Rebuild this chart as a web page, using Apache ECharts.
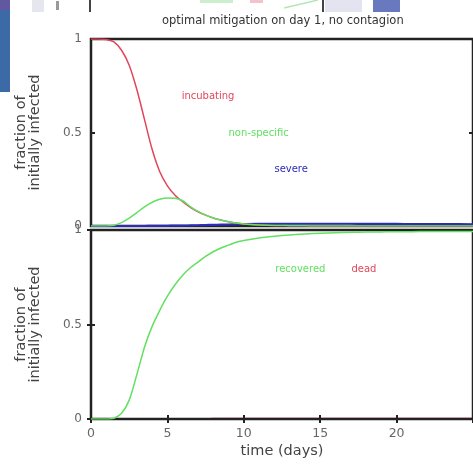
<!DOCTYPE html>
<html>
<head>
<meta charset="utf-8">
<script src="https://cdn.jsdelivr.net/npm/echarts@6/dist/echarts.min.js"></script>
<style>
  html, body { margin: 0; padding: 0; background: #fff; }
  #chart { width: 473px; height: 464px; }
</style>
</head>
<body>
<div id="chart"></div>
<script>
// time axis (days)
var days = [0, 0.5, 1, 1.5, 2, 2.5, 3, 3.5, 4, 4.5, 5, 5.5, 6, 6.5, 7, 7.5, 8, 8.5, 9, 9.5, 10,
            11, 12, 13, 14, 15, 16, 17, 18, 19, 20, 21, 22, 23, 24, 25];

// upper panel
var incubating  = [1, 1, 0.997, 0.985, 0.94, 0.86, 0.73, 0.57, 0.41, 0.29, 0.215, 0.165, 0.13, 0.1, 0.076, 0.058, 0.043, 0.032, 0.023, 0.016, 0.011,
                   0.006, 0.003, 0.002, 0.001, 0, 0, 0, 0, 0, 0, 0, 0, 0, 0, 0];
var nonSpecific = [0, 0, 0, 0.004, 0.018, 0.042, 0.072, 0.102, 0.127, 0.143, 0.15, 0.148, 0.135, 0.104, 0.078, 0.058, 0.043, 0.032, 0.023, 0.016, 0.011,
                   0.006, 0.003, 0.002, 0.001, 0, 0, 0, 0, 0, 0, 0, 0, 0, 0, 0];
var severe      = [0, 0, 0, 0, 0, 0, 0, 0, 0.001, 0.001, 0.001, 0.002, 0.002, 0.003, 0.004, 0.005, 0.006, 0.007, 0.008, 0.009, 0.01,
                   0.011, 0.011, 0.012, 0.012, 0.012, 0.012, 0.012, 0.011, 0.011, 0.011, 0.01, 0.01, 0.01, 0.01, 0.009];

// lower panel
var recovered = [0, 0, 0, 0.004, 0.03, 0.1, 0.235, 0.38, 0.49, 0.575, 0.65, 0.71, 0.76, 0.8, 0.83, 0.86, 0.885, 0.905, 0.92, 0.935, 0.945,
                 0.958, 0.967, 0.974, 0.979, 0.983, 0.986, 0.988, 0.989, 0.99, 0.991, 0.991, 0.992, 0.992, 0.992, 0.992];
var dead      = [0, 0, 0, 0, 0, 0, 0, 0, 0, 0, 0.001, 0.001, 0.001, 0.001, 0.001, 0.001, 0.002, 0.002, 0.002, 0.002, 0.002,
                 0.002, 0.002, 0.003, 0.003, 0.003, 0.003, 0.003, 0.003, 0.003, 0.003, 0.003, 0.003, 0.003, 0.003, 0.003];

var xTicks = [0, 5, 10, 15, 20];
var yTicks = [0, 0.5, 1];

// in-plot curve labels: [day, value]
var labelIncubating  = [7.66, 0.695];
var labelNonSpecific = [10.97, 0.497];
var labelSevere      = [13.1, 0.30];
var labelRecovered   = [13.7, 0.794];
var labelDead        = [17.86, 0.794];

var RED = "#e2465a", GREEN = "#62e062", BLUE = "#2c2cb8";
var FONT = "'DejaVu Sans', sans-serif";

function pairs(ys) {
  return days.map(function (d, i) { return [d, ys[i]]; });
}

function tag(pos, text, color) {
  return {
    symbol: "circle",
    symbolSize: 1,
    itemStyle: { color: "rgba(0,0,0,0)" },
    silent: true,
    label: { show: true, position: "inside", formatter: "{b}", color: color, fontSize: 10, fontFamily: FONT },
    data: [{ name: text, coord: pos }]
  };
}

function line(name, ys, color, idx, width, mark) {
  var s = {
    name: name,
    type: "line",
    xAxisIndex: idx,
    yAxisIndex: idx * 2,
    data: pairs(ys),
    smooth: 0.3,
    showSymbol: false,
    lineStyle: { color: color, width: width },
    itemStyle: { color: color }
  };
  if (mark) s.markPoint = mark;
  return s;
}

var tickStyle = { show: true, inside: true, length: 4, lineStyle: { color: "#222", width: 2 } };

function yAx(grid, pos, labels) {
  return {
    gridIndex: grid,
    position: pos,
    type: "value",
    min: 0, max: 1, interval: 0.5,
    splitLine: { show: false },
    axisLine: { show: false },
    axisTick: tickStyle,
    axisLabel: {
      show: labels, margin: 9, color: "#666", fontSize: 12, fontFamily: FONT,
      formatter: function (v) { return yTicks.indexOf(v) >= 0 ? String(v) : ""; }
    },
    name: labels ? "fraction of\ninitially infected" : "",
    nameLocation: "middle",
    nameGap: 49,
    nameTextStyle: { color: "#444", fontSize: 14.5, lineHeight: 14, fontFamily: FONT }
  };
}

var deadLine = line("dead", dead, RED, 1, 1.5, tag(labelDead, "dead", RED));
deadLine.z = -1; // sits under the frame, as in the original

var chart = echarts.init(document.getElementById("chart"));
chart.setOption({
  animation: false,
  title: {
    text: "optimal mitigation on day 1, no contagion",
    left: 157, top: 10,
    textStyle: { color: "#333", fontSize: 11.5, fontWeight: "normal", fontFamily: FONT }
  },
  grid: [
    { left: 91, right: -3, top: 39, height: 187, show: true, borderColor: "#222", borderWidth: 2.5 },
    { left: 91, right: -3, top: 230, height: 189, show: true, borderColor: "#222", borderWidth: 2.5 }
  ],
  xAxis: [
    {
      gridIndex: 0, type: "value", min: 0, max: 25, interval: 5,
      axisLine: { show: false }, axisTick: { show: false }, axisLabel: { show: false },
      splitLine: { show: false }
    },
    {
      gridIndex: 1, type: "value", min: 0, max: 25, interval: 5,
      axisLine: { show: false }, axisTick: tickStyle, splitLine: { show: false },
      axisLabel: {
        margin: 8, color: "#666", fontSize: 12.5, fontFamily: FONT, showMaxLabel: false,
        formatter: function (v) { return xTicks.indexOf(v) >= 0 ? String(v) : ""; }
      },
      name: "time (days)", nameLocation: "middle", nameGap: 25,
      nameTextStyle: { color: "#444", fontSize: 14.5, fontFamily: FONT }
    },
    {
      gridIndex: 1, position: "top", type: "value", min: 0, max: 25, interval: 5,
      axisLine: { show: false }, axisTick: tickStyle, axisLabel: { show: false },
      splitLine: { show: false }
    }
  ],
  yAxis: [yAx(0, "left", true), yAx(0, "right", false), yAx(1, "left", true), yAx(1, "right", false)],
  series: [
    line("severe", severe, BLUE, 0, 2.2, tag(labelSevere, "severe", BLUE)),
    line("incubating", incubating, RED, 0, 1.5, tag(labelIncubating, "incubating", RED)),
    line("non-specific", nonSpecific, GREEN, 0, 1.5, tag(labelNonSpecific, "non-specific", GREEN)),
    deadLine,
    line("recovered", recovered, GREEN, 1, 1.5, tag(labelRecovered, "recovered", GREEN))
  ],
  // leftovers of the panel above, cut off by the crop
  graphic: [
    { type: "rect", shape: { x: 0, y: 0, width: 10, height: 92 }, style: { fill: "#3b6aa6" } },
    { type: "rect", shape: { x: 0, y: 0, width: 10, height: 10 }, style: { fill: "#6158a0" } },
    { type: "rect", shape: { x: 32, y: 0, width: 12, height: 12 }, style: { fill: "#e6e6ee" } },
    { type: "rect", shape: { x: 56, y: 1, width: 3, height: 9 }, style: { fill: "#9a9a9a" } },
    { type: "rect", shape: { x: 89, y: 0, width: 2, height: 12 }, style: { fill: "#444" } },
    { type: "rect", shape: { x: 200, y: 0, width: 33, height: 3 }, style: { fill: "#cdeecd" } },
    { type: "rect", shape: { x: 250, y: 0, width: 13, height: 3 }, style: { fill: "#f3c3cb" } },
    { type: "line", shape: { x1: 284, y1: 8, x2: 318, y2: 0 }, style: { stroke: "#b6e6b6", lineWidth: 1.5 } },
    { type: "rect", shape: { x: 322, y: 0, width: 2, height: 12 }, style: { fill: "#444" } },
    { type: "rect", shape: { x: 325, y: 0, width: 37, height: 12 }, style: { fill: "#e4e4f0" } },
    { type: "rect", shape: { x: 373, y: 0, width: 27, height: 12 }, style: { fill: "#6a78c0" } }
  ]
});
</script>
</body>
</html>
